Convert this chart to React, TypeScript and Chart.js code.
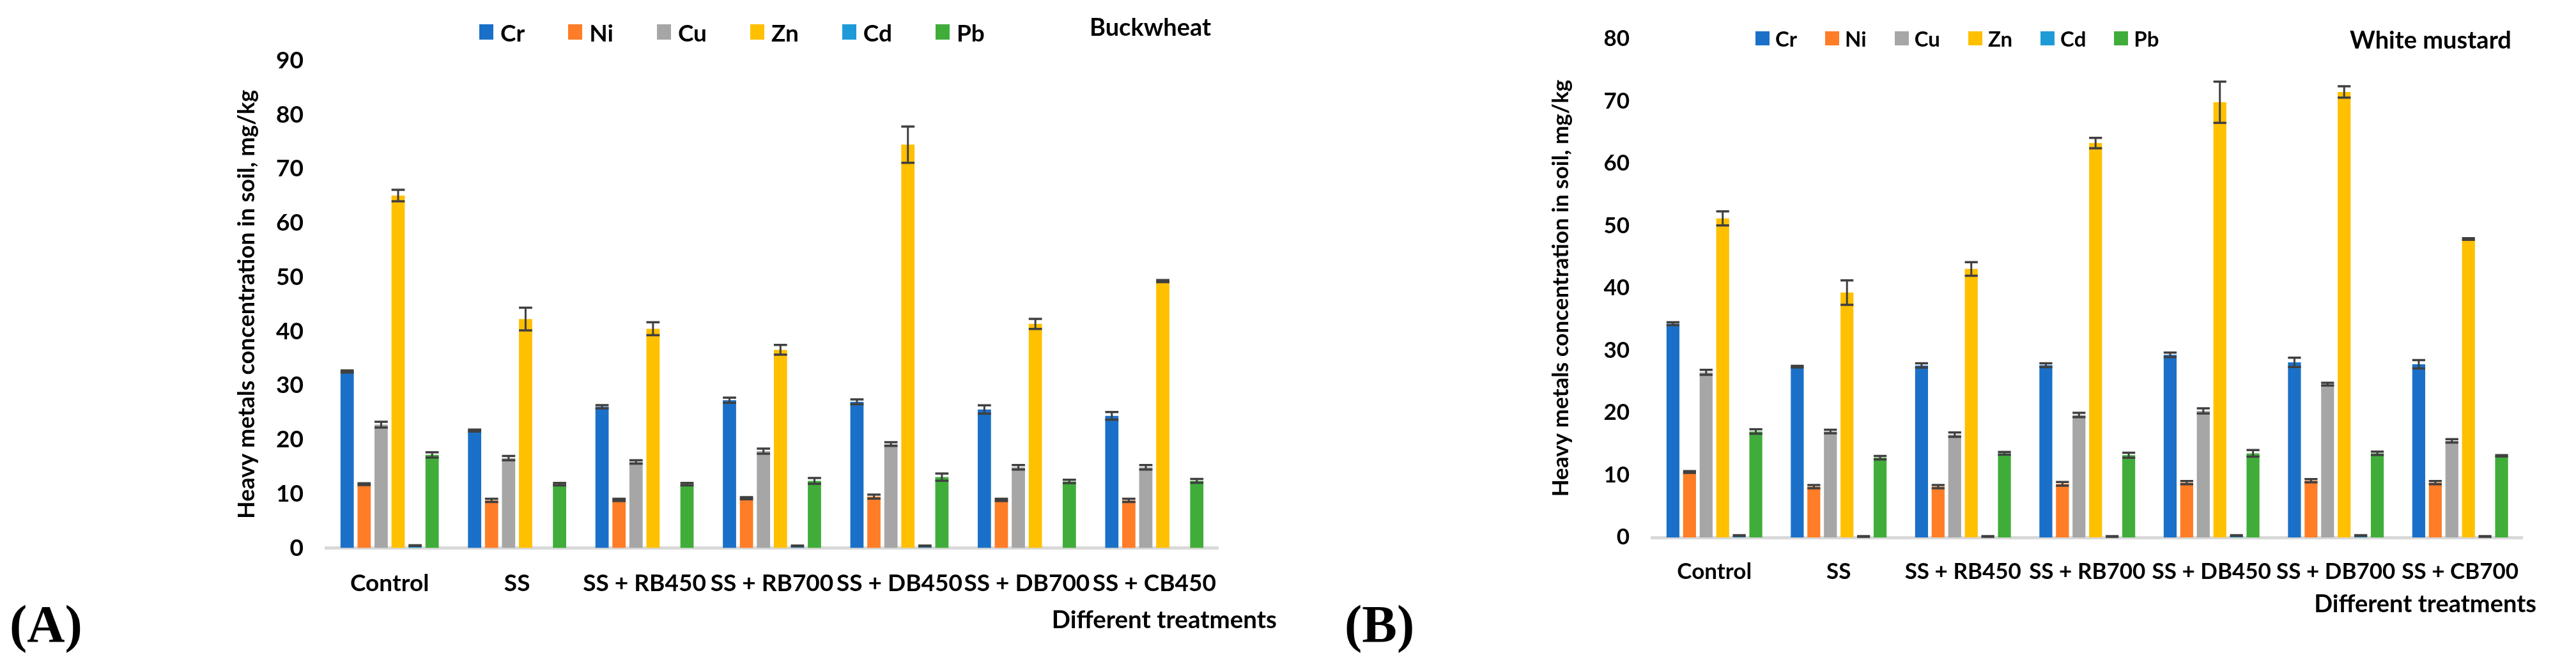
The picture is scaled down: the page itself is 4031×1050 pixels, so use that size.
import React, { useEffect, useRef } from 'react';
import { Chart, registerables } from 'chart.js';

Chart.register(...registerables);

// ---------- data ----------
const metals = ['Cr', 'Ni', 'Cu', 'Zn', 'Cd', 'Pb'];
const metalColors = ['#1a70c8', '#ff7d27', '#a6a6a6', '#ffc000', '#1e9bd7', '#40ad3a'];

const treatmentsA = ['Control', 'SS', 'SS + RB450', 'SS + RB700', 'SS + DB450', 'SS + DB700', 'SS + CB450'];
const treatmentsB = ['Control', 'SS', 'SS + RB450', 'SS + RB700', 'SS + DB450', 'SS + DB700', 'SS + CB700'];

const yTicksA = [0, 10, 20, 30, 40, 50, 60, 70, 80, 90];
const yTicksB = [0, 10, 20, 30, 40, 50, 60, 70, 80];

// (A) Buckwheat
const crA = [32.6, 21.7, 26.1, 27.3, 27.0, 25.6, 24.4];
const crErrA = [0.18, 0.18, 0.3, 0.47, 0.44, 0.77, 0.71];
const niA = [11.8, 8.8, 8.9, 9.2, 9.5, 8.9, 8.8];
const niErrA = [0.16, 0.3, 0.2, 0.19, 0.36, 0.2, 0.3];
const cuA = [22.8, 16.6, 15.9, 17.9, 19.2, 14.9, 14.9];
const cuErrA = [0.53, 0.4, 0.3, 0.47, 0.34, 0.41, 0.41];
const znA = [65.1, 42.3, 40.5, 36.6, 74.5, 41.4, 49.3];
const znErrA = [1.06, 2.1, 1.2, 0.9, 3.35, 0.93, 0.2];
const cdA = [0.45, 0, 0, 0.4, 0.4, 0, 0];
const cdErrA = [0.05, 0, 0, 0.05, 0.05, 0, 0];
const pbA = [17.2, 11.8, 11.8, 12.4, 13.1, 12.3, 12.4];
const pbErrA = [0.48, 0.22, 0.22, 0.53, 0.66, 0.31, 0.35];

// (B) White mustard
const crB = [34.3, 27.4, 27.6, 27.65, 29.3, 28.1, 27.8];
const crErrB = [0.23, 0.13, 0.34, 0.31, 0.36, 0.74, 0.66];
const niB = [10.5, 8.15, 8.15, 8.6, 8.8, 9.1, 8.8];
const niErrB = [0.15, 0.26, 0.26, 0.29, 0.26, 0.26, 0.26];
const cuB = [26.5, 17.0, 16.5, 19.65, 20.3, 24.6, 15.5];
const cuErrB = [0.39, 0.28, 0.34, 0.35, 0.41, 0.22, 0.26];
const znB = [51.2, 39.3, 43.1, 63.3, 69.85, 71.5, 47.9];
const znErrB = [1.13, 1.96, 1.09, 0.84, 3.3, 0.9, 0.12];
const cdB = [0.3, 0.15, 0.15, 0.15, 0.3, 0.3, 0.15];
const cdErrB = [0.05, 0.05, 0.05, 0.05, 0.05, 0.05, 0.05];
const pbB = [17.0, 12.8, 13.5, 13.2, 13.5, 13.5, 13.1];
const pbErrB = [0.36, 0.28, 0.22, 0.4, 0.52, 0.27, 0.1];

const yTitle = 'Heavy metals concentration in soil, mg/kg';
const xTitle = 'Different treatments';

const FONT = "Lato, 'Open Sans', 'DejaVu Sans', sans-serif";

// ---------- error bar plugin ----------
const errorBars = {
  id: 'errorBars',
  afterDatasetsDraw(chart: any) {
    const ctx = chart.ctx;
    const yScale = chart.scales.y;
    chart.data.datasets.forEach((ds: any, i: number) => {
      const meta = chart.getDatasetMeta(i);
      const errs: number[] = ds.errors || [];
      meta.data.forEach((bar: any, j: number) => {
        const e = errs[j];
        const v = ds.data[j];
        if (!e) return;
        const top = yScale.getPixelForValue(v + e);
        const bot = yScale.getPixelForValue(v - e);
        const half = bar.width / 2;
        ctx.save();
        ctx.strokeStyle = '#404040';
        ctx.lineWidth = 3;
        ctx.beginPath();
        ctx.moveTo(bar.x, top);
        ctx.lineTo(bar.x, bot);
        ctx.stroke();
        ctx.lineWidth = 3.5;
        ctx.beginPath();
        ctx.moveTo(bar.x - half, top);
        ctx.lineTo(bar.x + half, top);
        ctx.moveTo(bar.x - half, bot);
        ctx.lineTo(bar.x + half, bot);
        ctx.stroke();
        ctx.restore();
      });
    });
  },
};

type PanelCfg = {
  left: number;
  width: number;
  labels: string[];
  series: number[][];
  errors: number[][];
  yTicks: number[];
  fontSize: number;
  titleSize: number;
  pad: { left: number; right: number; top: number; bottom: number };
  yWidth: number;
  yTickPad: number;
  xTickPad: number;
};

const panelA: PanelCfg = {
  left: 0,
  width: 2000,
  labels: treatmentsA,
  series: [crA, niA, cuA, znA, cdA, pbA],
  errors: [crErrA, niErrA, cuErrA, znErrA, cdErrA, pbErrA],
  yTicks: yTicksA,
  fontSize: 37,
  titleSize: 36,
  pad: { left: 365, right: 94, top: 95, bottom: 82 },
  yWidth: 145,
  yTickPad: 35,
  xTickPad: 33,
};

const panelB: PanelCfg = {
  left: 2060,
  width: 1960,
  labels: treatmentsB,
  series: [crB, niB, cuB, znB, cdB, pbB],
  errors: [crErrB, niErrB, cuErrB, znErrB, cdErrB, pbErrB],
  yTicks: yTicksB,
  fontSize: 35,
  titleSize: 35,
  pad: { left: 362, right: 73, top: 61, bottom: 101 },
  yWidth: 163.5,
  yTickPad: 35.5,
  xTickPad: 33,
};

function Panel({ cfg }: { cfg: PanelCfg }) {
  const ref = useRef<HTMLCanvasElement | null>(null);
  useEffect(() => {
    if (!ref.current) return;
    const chart = new Chart(ref.current, {
      type: 'bar',
      data: {
        labels: cfg.labels,
        datasets: metals.map((m, i) => ({
          label: m,
          data: cfg.series[i],
          errors: cfg.errors[i],
          backgroundColor: metalColors[i],
          borderWidth: 0,
          categoryPercentage: 0.8,
          barPercentage: 0.78,
        })) as any,
      },
      options: {
        responsive: false,
        animation: false,
        devicePixelRatio: 1,
        layout: { padding: cfg.pad },
        plugins: {
          legend: { display: false },
          title: { display: false },
          tooltip: { enabled: false },
        },
        scales: {
          x: {
            grid: { display: false, drawTicks: false },
            border: { display: true, color: '#d9d9d9', width: 5 },
            ticks: {
              autoSkip: false,
              maxRotation: 0,
              minRotation: 0,
              padding: cfg.xTickPad,
              color: '#000',
              font: { family: FONT, size: cfg.fontSize, weight: 'bold' },
            },
          },
          y: {
            min: cfg.yTicks[0],
            max: cfg.yTicks[cfg.yTicks.length - 1],
            afterBuildTicks: (scale: any) => {
              scale.ticks = cfg.yTicks.map((v) => ({ value: v }));
            },
            afterFit: (scale: any) => {
              scale.width = cfg.yWidth;
            },
            grid: { display: false, drawTicks: false },
            border: { display: false },
            ticks: {
              padding: cfg.yTickPad,
              color: '#000',
              font: { family: FONT, size: cfg.fontSize, weight: 'bold' },
            },
            title: {
              display: true,
              text: yTitle,
              color: '#000',
              padding: { top: 0, bottom: 0 },
              font: { family: FONT, size: cfg.titleSize, weight: 'bold' },
            },
          },
        },
      } as any,
      plugins: [errorBars],
    });
    return () => chart.destroy();
  }, [cfg]);
  return (
    <canvas
      ref={ref}
      width={cfg.width}
      height={1050}
      style={{ position: 'absolute', left: cfg.left, top: 0, width: cfg.width, height: 1050 }}
    />
  );
}

function Legend({ left, top, size, boxW, boxH, textGap, itemGap }: any) {
  return (
    <div
      style={{
        position: 'absolute',
        left,
        top,
        display: 'flex',
        alignItems: 'center',
        fontFamily: FONT,
        fontWeight: 700,
        fontSize: size,
        lineHeight: 1,
        whiteSpace: 'nowrap',
        color: '#000',
      }}
    >
      {metals.map((m, i) => (
        <div key={m} style={{ display: 'flex', alignItems: 'center', marginRight: i < metals.length - 1 ? itemGap : 0 }}>
          <div style={{ width: boxW, height: boxH, background: metalColors[i], marginRight: textGap }} />
          <span>{m}</span>
        </div>
      ))}
    </div>
  );
}

const textStyle = (size: number): React.CSSProperties => ({
  position: 'absolute',
  fontFamily: FONT,
  fontWeight: 700,
  fontSize: size,
  lineHeight: 1,
  whiteSpace: 'nowrap',
  color: '#000',
});

const panelLabelStyle: React.CSSProperties = {
  position: 'absolute',
  fontFamily: "'Liberation Serif', 'DejaVu Serif', serif",
  fontWeight: 700,
  fontSize: 82,
  lineHeight: 1,
  whiteSpace: 'nowrap',
  color: '#000',
  top: 936,
};

export default function App() {
  return (
    <div
      style={{
        position: 'absolute',
        left: 0,
        top: 0,
        width: 4031,
        height: 1050,
        overflow: 'hidden',
        background: '#fff',
      }}
    >
      <Panel cfg={panelA} />
      <Panel cfg={panelB} />

      <Legend left={750} top={31.5} size={37} boxW={22} boxH={24} textGap={11} itemGap={68} />
      <Legend left={2747} top={43.5} size={33} boxW={22} boxH={22} textGap={9} itemGap={44} />

      <div style={{ ...textStyle(38), left: 1705, top: 22 }}>Buckwheat</div>
      <div style={{ ...textStyle(38), left: 3677, top: 41.5 }}>White mustard</div>

      <div style={{ ...textStyle(38.5), right: 4031 - 1998, top: 949 }}>{xTitle}</div>
      <div style={{ ...textStyle(38), right: 4031 - 3969, top: 924 }}>{xTitle}</div>

      <div style={{ ...panelLabelStyle, left: 15 }}>(A)</div>
      <div style={{ ...panelLabelStyle, left: 2104 }}>(B)</div>
    </div>
  );
}
